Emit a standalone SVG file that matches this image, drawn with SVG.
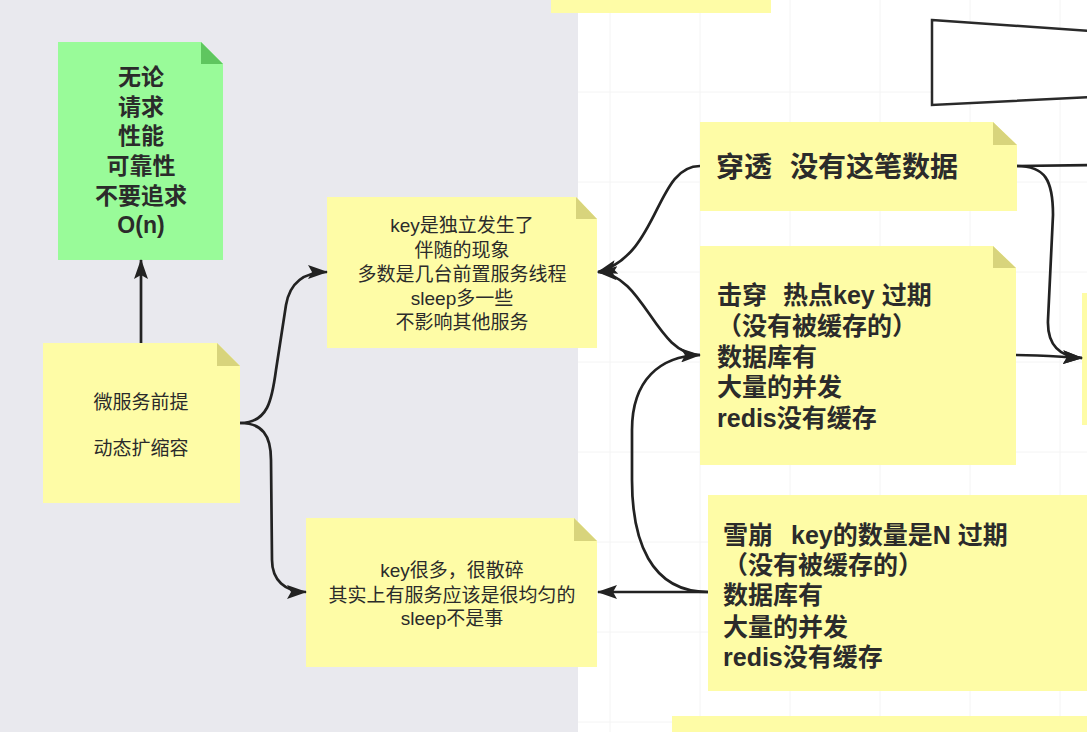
<svg xmlns="http://www.w3.org/2000/svg" width="1087" height="732" viewBox="0 0 1087 732">
<style>
.note{fill:#fefca6}
.fold{fill:#d8d47c}
.gnote{fill:#99fb99}
.gfold{fill:#5fc65f}
.t{font-family:"Liberation Sans","Noto Sans CJK SC",sans-serif;fill:#2b2b2b;dominant-baseline:central}
.n{font-size:19px;text-anchor:middle}
.b{font-weight:bold;font-size:25px}
.g{font-weight:bold;font-size:23px;text-anchor:middle}
.c{fill:none;stroke:#222;stroke-width:2.7}
.grid{stroke:#f4f4f4;stroke-width:1}
</style>
<defs>
<marker id="arr" viewBox="0 0 20 14" refX="19" refY="7" markerWidth="20" markerHeight="14" markerUnits="userSpaceOnUse" orient="auto">
<path d="M0,0 L20,7 L0,14 L4,7 Z" fill="#222"/>
</marker>
</defs>
<rect x="0" y="0" width="1087" height="732" fill="#ffffff"/>
<rect x="0" y="0" width="578" height="732" fill="#e9e9ee"/>
<g id="grid">
<line class="grid" x1="610" y1="0" x2="610" y2="732"/>
<line class="grid" x1="700" y1="0" x2="700" y2="732"/>
<line class="grid" x1="790" y1="0" x2="790" y2="732"/>
<line class="grid" x1="880" y1="0" x2="880" y2="732"/>
<line class="grid" x1="970" y1="0" x2="970" y2="732"/>
<line class="grid" x1="1060" y1="0" x2="1060" y2="732"/>
<line class="grid" x1="578" y1="92" x2="1087" y2="92"/>
<line class="grid" x1="578" y1="182" x2="1087" y2="182"/>
<line class="grid" x1="578" y1="272" x2="1087" y2="272"/>
<line class="grid" x1="578" y1="362" x2="1087" y2="362"/>
<line class="grid" x1="578" y1="452" x2="1087" y2="452"/>
<line class="grid" x1="578" y1="542" x2="1087" y2="542"/>
<line class="grid" x1="578" y1="632" x2="1087" y2="632"/>
<line class="grid" x1="578" y1="722" x2="1087" y2="722"/>
</g>
<g id="partial-top"><rect class="note" x="551" y="0" width="220" height="13"/></g>
<g id="trapezoid"><polygon points="932,20 1090,31 1090,97 932,105" fill="#ffffff" stroke="#2a2a2a" stroke-width="2.5"/></g>
<g id="partial-right"><rect class="note" x="1082" y="293" width="10" height="132"/></g>
<g id="partial-bottom"><rect class="note" x="672" y="716" width="420" height="20"/></g>

<g id="green">
<path class="gnote" d="M58,42 L201,42 L223,64 L223,260 L58,260 Z"/>
<path class="gfold" d="M201,42 L201,64 L223,64 Z"/>
<text class="t g" x="141" y="77">无论</text>
<text class="t g" x="141" y="107">请求</text>
<text class="t g" x="141" y="136">性能</text>
<text class="t g" x="141" y="166">可靠性</text>
<text class="t g" x="141" y="196">不要追求</text>
<text class="t g" x="141" y="225">O(n)</text>
</g>

<g id="micro">
<path class="note" d="M43,343 L217,343 L240,366 L240,503 L43,503 Z"/>
<path class="fold" d="M217,343 L217,366 L240,366 Z"/>
<text class="t n" x="141" y="402">微服务前提</text>
<text class="t n" x="141" y="448">动态扩缩容</text>
</g>

<g id="independent">
<path class="note" d="M327,197 L576,197 L597,219 L597,348 L327,348 Z"/>
<path class="fold" d="M576,197 L576,219 L597,219 Z"/>
<text class="t n" x="462" y="225">key是独立发生了</text>
<text class="t n" x="462" y="250">伴随的现象</text>
<text class="t n" x="462" y="274">多数是几台前置服务线程</text>
<text class="t n" x="462" y="298">sleep多一些</text>
<text class="t n" x="462" y="322">不影响其他服务</text>
</g>

<g id="scattered">
<path class="note" d="M306,518 L574,518 L597,541 L597,667 L306,667 Z"/>
<path class="fold" d="M574,518 L574,541 L597,541 Z"/>
<text class="t n" x="452" y="570">key很多，很散碎</text>
<text class="t n" x="452" y="595">其实上有服务应该是很均匀的</text>
<text class="t n" x="452" y="618">sleep不是事</text>
</g>

<g id="penetration">
<path class="note" d="M700,122 L993,122 L1017,145 L1017,211 L700,211 Z"/>
<path class="fold" d="M993,122 L993,145 L1017,145 Z"/>
<text class="t b" style="font-size:28px" y="167"><tspan x="716">穿透</tspan><tspan x="790">没有这笔数据</tspan></text>
</g>

<g id="breakdown">
<path class="note" d="M700,246 L993,246 L1016,268 L1016,465 L700,465 Z"/>
<path class="fold" d="M993,246 L993,268 L1016,268 Z"/>
<text class="t b" y="295"><tspan x="717">击穿</tspan><tspan x="783">热点key 过期</tspan></text>
<text class="t b" x="717" y="326">（没有被缓存的）</text>
<text class="t b" x="717" y="357">数据库有</text>
<text class="t b" x="717" y="387">大量的并发</text>
<text class="t b" x="717" y="418">redis没有缓存</text>
</g>

<g id="avalanche">
<rect class="note" x="708" y="495" width="390" height="196"/>
<text class="t b" y="535"><tspan x="723">雪崩</tspan><tspan x="791">key的数量是N 过期</tspan></text>
<text class="t b" x="723" y="565">（没有被缓存的）</text>
<text class="t b" x="723" y="595">数据库有</text>
<text class="t b" x="723" y="627">大量的并发</text>
<text class="t b" x="723" y="657">redis没有缓存</text>
</g>

<g id="connectors">
<path class="c" d="M141,343 L141,260" marker-end="url(#arr)"/>
<path class="c" d="M240,423 C268,423 272,400 276,370 L286,305 C290,282 305,272 327,272" marker-end="url(#arr)"/>
<path class="c" d="M240,423 C262,423 271,435 271,460 L272,560 C272,580 285,592 306,592" marker-end="url(#arr)"/>
<path class="c" d="M700,166 C655,166 660,255 598,272" marker-end="url(#arr)"/>
<path class="c" d="M700,355 C655,355 645,275 598,272" marker-end="url(#arr)"/>
<path class="c" d="M708,592 C650,592 632,540 632,480 L632,430 C632,380 660,356 700,355" marker-end="url(#arr)"/>
<path class="c" d="M708,592 L598,592" marker-end="url(#arr)"/>
<path class="c" d="M1017,166 L1090,165"/>
<path class="c" d="M1017,166 C1045,166 1053,180 1053,215 L1048,320 C1047,345 1060,357 1082,358" marker-end="url(#arr)"/>
<path class="c" d="M1016,355 C1045,355 1060,357 1082,358" marker-end="url(#arr)"/>
</g>
</svg>
